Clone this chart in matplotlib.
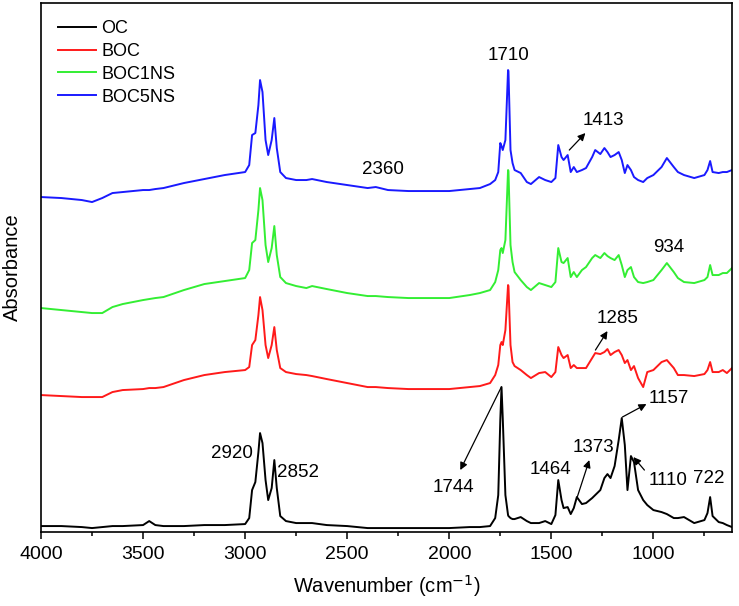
import matplotlib
matplotlib.use('Agg')
import matplotlib.pyplot as plt
from matplotlib.ticker import MultipleLocator

plt.rcParams['font.family'] = ['Liberation Sans', 'DejaVu Sans']

# wavenumber grid (cm-1) shared by all spectra
wn = [4000, 3900, 3800, 3750, 3700, 3650, 3600, 3500, 3470, 3440, 3400, 3300, 3200, 3100,
      3000, 2980, 2966, 2950, 2935, 2927, 2915, 2900, 2887, 2870, 2857, 2845, 2828, 2800,
      2750, 2700, 2672, 2600, 2500, 2400, 2360, 2300, 2200, 2100, 2000, 1900, 1850, 1800,
      1775, 1760, 1750, 1744, 1738, 1725, 1712, 1710, 1700, 1690, 1680, 1650, 1620, 1600,
      1560, 1530, 1500, 1480, 1466, 1450, 1440, 1420, 1405, 1390, 1375, 1350, 1330, 1300,
      1285, 1260, 1240, 1225, 1210, 1190, 1170, 1155, 1140, 1127, 1110, 1095, 1075, 1050,
      1030, 1000, 960, 934, 900, 880, 850, 800, 750, 735, 722, 710, 680, 660, 640, 615]

# absorbance (stacked, offsets included)
oc = [0.06, 0.06, 0.05, 0.04, 0.05, 0.06, 0.06, 0.07, 0.11, 0.07, 0.06, 0.06, 0.07, 0.07,
      0.08, 0.14, 0.42, 0.50, 0.80, 0.99, 0.89, 0.52, 0.32, 0.44, 0.72, 0.44, 0.16, 0.11,
      0.09, 0.09, 0.09, 0.07, 0.06, 0.04, 0.04, 0.04, 0.04, 0.04, 0.04, 0.05, 0.05, 0.06,
      0.14, 0.37, 1.12, 1.45, 1.14, 0.37, 0.17, 0.16, 0.14, 0.13, 0.13, 0.15, 0.11, 0.09,
      0.09, 0.11, 0.08, 0.17, 0.52, 0.32, 0.24, 0.25, 0.18, 0.24, 0.35, 0.28, 0.29, 0.34,
      0.37, 0.42, 0.54, 0.58, 0.54, 0.66, 0.92, 1.14, 0.87, 0.42, 0.76, 0.70, 0.42, 0.32,
      0.27, 0.22, 0.20, 0.18, 0.14, 0.14, 0.15, 0.09, 0.12, 0.19, 0.35, 0.16, 0.10, 0.09, 0.07, 0.05]

boc = [1.37, 1.36, 1.35, 1.35, 1.35, 1.40, 1.42, 1.43, 1.44, 1.44, 1.45, 1.52, 1.57, 1.60,
       1.62, 1.65, 1.87, 1.92, 2.17, 2.35, 2.22, 1.87, 1.74, 1.87, 2.05, 1.82, 1.64, 1.60,
       1.58, 1.57, 1.56, 1.53, 1.49, 1.45, 1.45, 1.44, 1.43, 1.43, 1.43, 1.45, 1.46, 1.49,
       1.57, 1.67, 1.87, 1.90, 1.87, 2.02, 2.47, 2.46, 1.87, 1.70, 1.66, 1.62, 1.57, 1.54,
       1.59, 1.60, 1.55, 1.60, 1.85, 1.77, 1.74, 1.77, 1.64, 1.67, 1.64, 1.64, 1.64, 1.74,
       1.79, 1.78, 1.80, 1.83, 1.77, 1.80, 1.82, 1.77, 1.69, 1.72, 1.62, 1.66, 1.54, 1.45,
       1.60, 1.62, 1.70, 1.72, 1.64, 1.57, 1.57, 1.56, 1.58, 1.62, 1.70, 1.60, 1.60, 1.62, 1.59, 1.64]

boc1ns = [2.24, 2.22, 2.20, 2.19, 2.19, 2.25, 2.28, 2.32, 2.33, 2.34, 2.35, 2.42, 2.48, 2.51,
          2.54, 2.62, 2.89, 2.92, 3.22, 3.44, 3.32, 2.87, 2.70, 2.84, 3.06, 2.77, 2.55, 2.49,
          2.46, 2.44, 2.46, 2.43, 2.39, 2.36, 2.36, 2.35, 2.34, 2.34, 2.34, 2.37, 2.39, 2.42,
          2.50, 2.62, 2.82, 2.84, 2.79, 2.92, 3.62, 3.61, 2.87, 2.70, 2.60, 2.52, 2.45, 2.42,
          2.49, 2.47, 2.45, 2.50, 2.84, 2.70, 2.69, 2.74, 2.55, 2.60, 2.55, 2.62, 2.65, 2.74,
          2.77, 2.74, 2.79, 2.76, 2.74, 2.72, 2.77, 2.67, 2.55, 2.62, 2.65, 2.55, 2.50, 2.49,
          2.50, 2.52, 2.62, 2.69, 2.60, 2.54, 2.50, 2.49, 2.52, 2.55, 2.67, 2.57, 2.57, 2.59, 2.59, 2.64]

boc5ns = [3.35, 3.34, 3.32, 3.30, 3.34, 3.39, 3.40, 3.42, 3.42, 3.43, 3.44, 3.49, 3.53, 3.57,
          3.60, 3.67, 3.97, 3.99, 4.27, 4.52, 4.40, 3.92, 3.77, 3.92, 4.14, 3.84, 3.60, 3.54,
          3.52, 3.52, 3.53, 3.50, 3.47, 3.44, 3.45, 3.42, 3.41, 3.41, 3.41, 3.43, 3.44, 3.48,
          3.52, 3.60, 3.89, 3.86, 3.82, 3.92, 4.62, 4.61, 3.82, 3.69, 3.62, 3.59, 3.50, 3.48,
          3.55, 3.52, 3.50, 3.54, 3.87, 3.75, 3.72, 3.77, 3.60, 3.65, 3.60, 3.62, 3.64, 3.75,
          3.82, 3.78, 3.84, 3.80, 3.75, 3.77, 3.80, 3.72, 3.59, 3.67, 3.62, 3.55, 3.52, 3.50,
          3.54, 3.57, 3.65, 3.74, 3.65, 3.60, 3.57, 3.54, 3.57, 3.62, 3.71, 3.60, 3.59, 3.60, 3.60, 3.62]

series = ['OC', 'BOC', 'BOC1NS', 'BOC5NS']
colors = ['black', '#ff1a1a', '#33ee33', '#1a1aff']

# plain peak labels: text, position
labels = [
    ('1710', (1711, 4.77)),
    ('2360', (2324, 3.63)),
    ('934', (926, 2.85)),
    ('1464', (1505, 0.63)),
    ('722', (730, 0.54)),
    ('2920', (3064, 0.79)),
    ('2852', (2740, 0.60)),
]
# arrowed labels: text, position, arrow start, arrow head
arrows = [
    ('1413', (1245, 4.12), (1412, 3.82), (1333, 3.99)),
    ('1285', (1176, 2.14), (1284, 1.82), (1225, 2.01)),
    ('1157', (926, 1.34), (1152, 1.15), (1034, 1.28)),
    ('1373', (1294, 0.85), (1373, 0.35), (1314, 0.72)),
    ('1110', (930, 0.52), (1044, 0.62), (1098, 0.75)),
    ('1744', (1980, 0.45), (1745, 1.45), (1946, 0.62)),
]

fig = plt.figure(figsize=(7.39, 6.06), dpi=100)
ax = fig.add_axes([0.0555, 0.122, 0.935, 0.873])

for name, y, c in zip(series, [oc, boc, boc1ns, boc5ns], colors):
    ax.plot(wn, y, color=c, lw=1.4, label=name, solid_joinstyle='round')

for txt, pos in labels:
    ax.text(pos[0], pos[1], txt, ha='center', va='center', fontsize=13.5)
for txt, pos, start, end in arrows:
    ax.text(pos[0], pos[1], txt, ha='center', va='center', fontsize=13.5)
    ax.annotate('', xy=end, xytext=start,
                arrowprops=dict(arrowstyle='-|>', color='black', lw=0.9, mutation_scale=11,
                                shrinkA=0, shrinkB=0))

ax.set_xlim(4000, 615)
ax.set_ylim(0, 5.29)
ax.xaxis.set_major_locator(MultipleLocator(500))
ax.xaxis.set_minor_locator(MultipleLocator(250))
ax.tick_params(axis='x', which='major', direction='out', length=5, width=1.1, labelsize=14, pad=5)
ax.tick_params(axis='x', which='minor', direction='out', length=3, width=1.1)
ax.set_yticks([])
for s in ax.spines.values():
    s.set_linewidth(1.2)

ax.set_xlabel('Wavenumber (cm$^{-1}$)', fontsize=14.5, labelpad=7)
ax.set_ylabel('Absorbance', fontsize=14.5)
ax.yaxis.set_label_coords(-0.027, 0.5)

ax.legend(loc='upper left', frameon=False, fontsize=13, handlelength=2.1,
          handletextpad=0.3, labelspacing=0.32, borderaxespad=0.55)

fig.savefig('out.png', dpi=100)
